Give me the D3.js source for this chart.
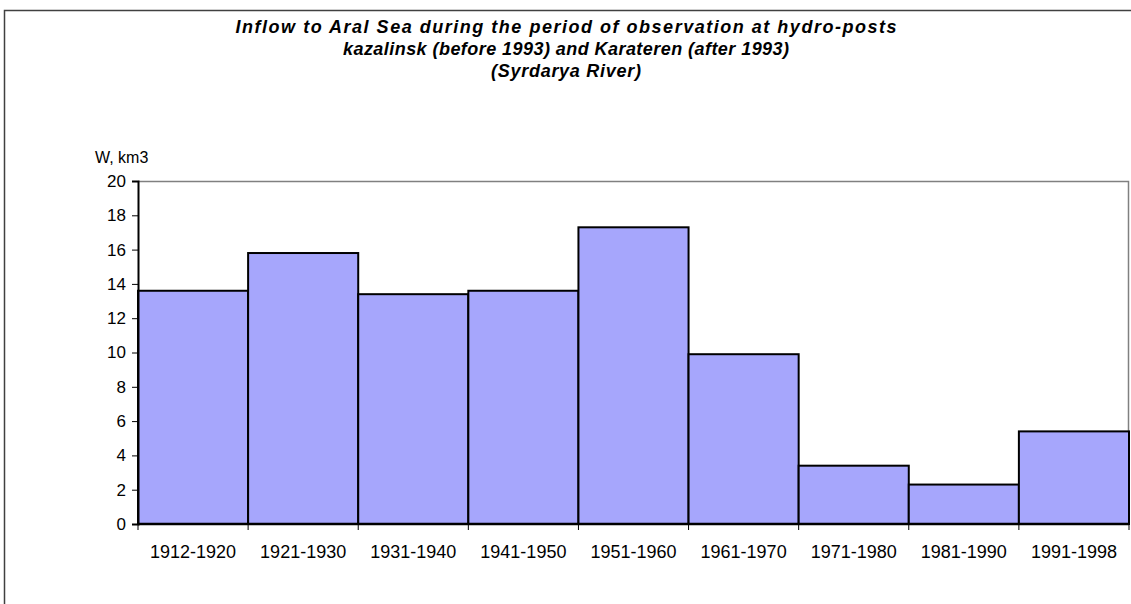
<!DOCTYPE html>
<html>
<head>
<meta charset="utf-8">
<script src="https://cdn.jsdelivr.net/npm/d3@7"></script>
<style>
  body { margin: 0; background: #fff; }
  svg { display: block; font-family: Arial, "Liberation Sans", sans-serif; }
</style>
</head>
<body>
<div id="chart"></div>
<script>
// decades and inflow volume W (km3)
var periods = ["1912-1920", "1921-1930", "1931-1940", "1941-1950", "1951-1960",
               "1961-1970", "1971-1980", "1981-1990", "1991-1998"];
var inflow = [13.6, 15.8, 13.4, 13.6, 17.3, 9.9, 3.4, 2.3, 5.4];
var yTicks = [0, 2, 4, 6, 8, 10, 12, 14, 16, 18, 20];
var titleLines = [
  "Inflow to Aral Sea during the period of observation at hydro-posts",
  "kazalinsk (before 1993) and Karateren (after 1993)",
  "(Syrdarya River)"
];
var titleWidths = [661, 446, 150]; // excel spreads the title letters out

var width = 1131, height = 604;
var margin = {left: 138, right: 2, top: 181, bottom: 80};

var svg = d3.select("#chart").append("svg")
    .attr("width", width).attr("height", height);

// outer chart frame (only left/top edges are in view)
svg.append("path")
    .attr("d", "M4.5," + height + "V10.5H" + width)
    .attr("fill", "none").attr("stroke", "#404040").attr("stroke-width", 1.5);

var x = d3.scaleBand().domain(periods)
    .range([margin.left, width - margin.right]).padding(0);
var y = d3.scaleLinear().domain([0, 20])
    .range([height - margin.bottom, margin.top]);

// plot area border (top + right in grey)
svg.append("path")
    .attr("d", "M" + margin.left + "," + (y(20) + 0.5) + "H" + (x.range()[1] - 0.5) + "V" + y(0))
    .attr("fill", "none").attr("stroke", "#808080").attr("stroke-width", 1.5);

// bars
svg.append("g").selectAll("rect")
    .data(inflow)
  .enter().append("rect")
    .attr("x", function(d, i) { return x(periods[i]); })
    .attr("y", function(d) { return y(d); })
    .attr("width", x.bandwidth())
    .attr("height", function(d) { return y(0) - y(d); })
    .attr("fill", "#a6a6fc")
    .attr("stroke", "#000")
    .attr("stroke-width", 2);

// y axis
var yAxis = svg.append("g")
    .attr("transform", "translate(" + margin.left + ",0)")
    .call(d3.axisLeft(y).tickValues(yTicks).tickSize(6).tickPadding(6).tickFormat(d3.format("d")));
yAxis.select(".domain").attr("stroke", "#000").attr("stroke-width", 2);
yAxis.selectAll(".tick line").attr("stroke", "#000");
yAxis.selectAll("text").attr("font-size", 17).attr("fill", "#000");

// x axis: ticks at bar boundaries, labels centred under bars
var bounds = periods.map(function(p) { return x(p); }).concat([x.range()[1]]);
svg.append("line")
    .attr("x1", margin.left).attr("x2", x.range()[1])
    .attr("y1", y(0)).attr("y2", y(0))
    .attr("stroke", "#000").attr("stroke-width", 2.5);
svg.append("g").selectAll("line")
    .data(bounds)
  .enter().append("line")
    .attr("x1", function(d) { return d; }).attr("x2", function(d) { return d; })
    .attr("y1", y(0)).attr("y2", y(0) + 6)
    .attr("stroke", "#000");
svg.append("g").selectAll("text")
    .data(periods)
  .enter().append("text")
    .attr("x", function(d) { return x(d) + x.bandwidth() / 2; })
    .attr("y", y(0) + 34)
    .attr("text-anchor", "middle")
    .attr("font-size", 18)
    .text(function(d) { return d; });

// y axis title
svg.append("text")
    .attr("x", 95).attr("y", 163)
    .attr("font-size", 16)
    .text("W, km3");

// title
svg.append("g").selectAll("text")
    .data(titleLines)
  .enter().append("text")
    .attr("x", 566)
    .attr("y", function(d, i) { return 33 + i * 22; })
    .attr("text-anchor", "middle")
    .attr("font-size", 18)
    .attr("font-weight", "bold")
    .attr("font-style", "italic")
    .attr("textLength", function(d, i) { return titleWidths[i]; })
    .attr("lengthAdjust", "spacing")
    .text(function(d) { return d; });
</script>
</body>
</html>
